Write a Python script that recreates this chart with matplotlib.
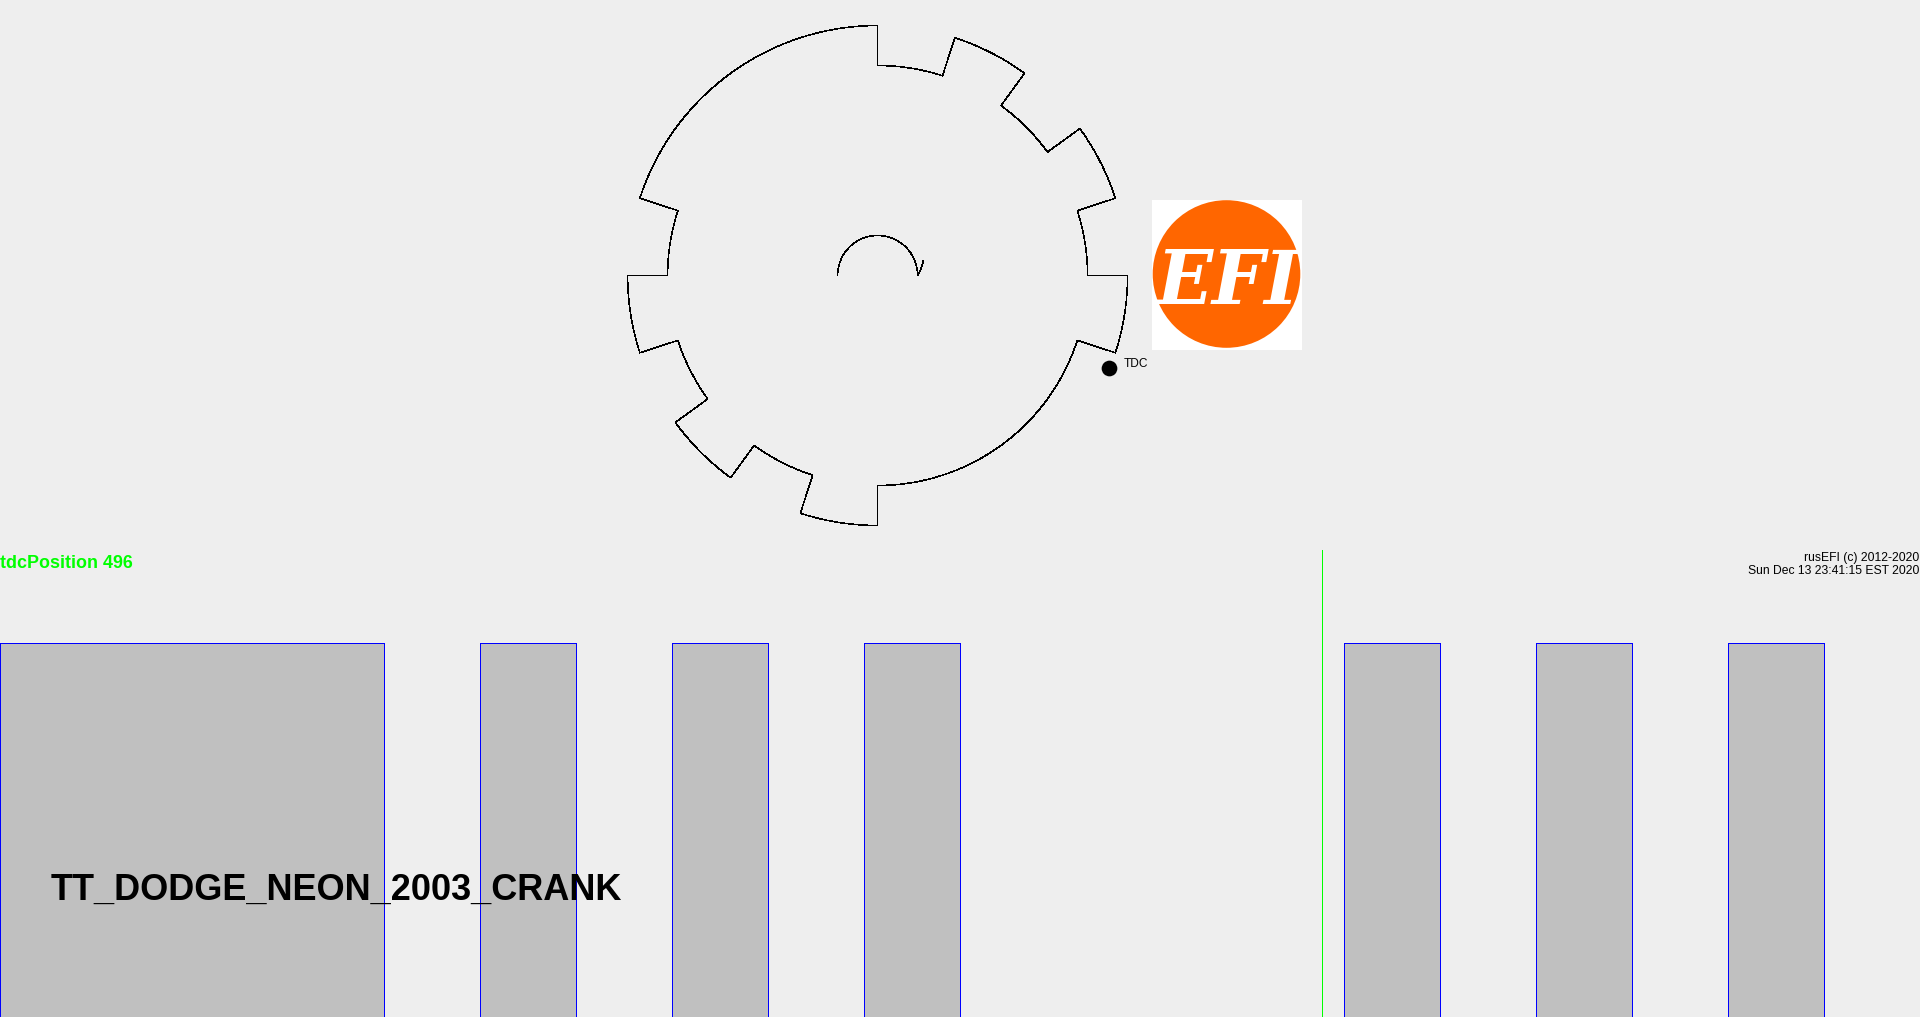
import numpy as np
import matplotlib
matplotlib.use("Agg")
import matplotlib.pyplot as plt
from matplotlib.patches import Circle

W, H = 1920, 1017
BG = "#EEEEEE"

# Trigger shape: tooth edges in degrees of the cycle
TOOTH_START = [0, 90, 126, 162, 252, 288, 324]
TOOTH_END = [72, 108, 144, 180, 270, 306, 342]
CYCLE = 360
R_HIGH = 250
R_LOW = 210
# Rotation arrow on the wheel
ARROW_THETA = [-18, 162, 144]
ARROW_R = [40, 40, 48]
# Top dead centre marker
TDC_ANGLE = 183.7
TDC_R = 249
# Sync line in the waveform
SYNC_ANGLE = 247.9
WAVE_TOP = 0.8
WAVE_BOTTOM = -0.2
# Labels
TDC_TEXT = "TDC"
POSITION_TEXT = "tdcPosition 496"
CREDIT_TEXT = "rusEFI (c) 2012-2020"
DATE_TEXT = "Sun Dec 13 23:41:15 EST 2020"
NAME_TEXT = "TT_DODGE_NEON_2003_CRANK"
LOGO_TEXT = "EFI"

fig = plt.figure(figsize=(W / 100, H / 100), dpi=100, facecolor=BG)


def box(x0, y0, x1, y1):
    return [x0 / W, 1 - y1 / H, (x1 - x0) / W, (y1 - y0) / H]


# Trigger wheel
wheel = fig.add_axes(box(607.6, 5.5, 1147.6, 545.5), projection="polar")
wheel.set_theta_direction(-1)
wheel.set_theta_offset(np.deg2rad(162))
wheel.set_rlim(0, 270)
wheel.set_axis_off()

th, rr = [], []
for i, (a, b) in enumerate(zip(TOOTH_START, TOOTH_END)):
    nxt = TOOTH_START[i + 1] if i + 1 < len(TOOTH_START) else CYCLE
    th += [a, b, b, nxt, nxt]
    rr += [R_HIGH, R_HIGH, R_LOW, R_LOW, R_HIGH]


def sampled(theta, radius, step=2.0):
    xs, ys = [], []
    for k in range(len(theta) - 1):
        n = max(1, int(abs(theta[k + 1] - theta[k]) / step))
        for j in range(n):
            xs.append(theta[k] + (theta[k + 1] - theta[k]) * j / n)
            ys.append(radius[k] + (radius[k + 1] - radius[k]) * j / n)
    xs.append(theta[-1])
    ys.append(radius[-1])
    return np.deg2rad(xs), ys


tx, ty = sampled(th, rr)
wheel.plot(tx, ty, color="black", lw=0.4, antialiased=False, solid_joinstyle="miter")
ax_, ay_ = sampled(ARROW_THETA, ARROW_R)
wheel.plot(ax_, ay_, color="black", lw=0.4, antialiased=False)
wheel.plot([np.deg2rad(TDC_ANGLE)], [TDC_R], "o", color="black", ms=11.3, mew=0)
wheel.annotate(TDC_TEXT, (np.deg2rad(TDC_ANGLE), TDC_R), xytext=(15, 3.5),
               textcoords="offset pixels", ha="left", va="center",
               family="Liberation Sans", fontsize=8.6, color="black")

# Waveform
wave = fig.add_axes(box(0, 550, W, H))
wave.set_xlim(0, CYCLE)
wave.set_ylim(0, 1)
wave.set_axis_off()
widths = [e - s for s, e in zip(TOOTH_START, TOOTH_END)]
wave.bar(TOOTH_START, [WAVE_TOP - WAVE_BOTTOM] * len(widths), widths, bottom=WAVE_BOTTOM,
         align="edge", color="#C0C0C0", edgecolor="#0000FF", linewidth=0.72,
         antialiased=False, clip_on=False)
wave.axvline(SYNC_ANGLE, color="#00FF00", lw=0.72, antialiased=False)

# Logo
logo = fig.add_axes(box(1152, 200, 1302, 350))
logo.set_xlim(0, 150)
logo.set_ylim(150, 0)
logo.set_xticks([])
logo.set_yticks([])
logo.set_facecolor("white")
for s in logo.spines.values():
    s.set_visible(False)
logo.add_patch(Circle((74.5, 74), 73.8, facecolor="#FF6600", edgecolor="none"))
logo.text(76.5, 104, LOGO_TEXT, color="white", family="DejaVu Serif", weight="bold",
          style="italic", fontsize=53, ha="center", va="baseline")

# Texts
fig.text(0 / W, 1 - 568 / H, POSITION_TEXT, color="#00FF00", family="Liberation Sans",
         weight="bold", fontsize=12.9, ha="left", va="baseline")
fig.text(1919.5 / W, 1 - 561 / H, CREDIT_TEXT, color="black", family="Liberation Sans",
         fontsize=8.7, ha="right", va="baseline")
fig.text(1919.5 / W, 1 - 574.5 / H, DATE_TEXT, color="black", family="Liberation Sans",
         fontsize=8.7, ha="right", va="baseline")
fig.text(50.3 / W, 1 - 900 / H, NAME_TEXT, color="black", family="Liberation Sans",
         weight="bold", fontsize=26, ha="left", va="baseline", zorder=10)

fig.savefig("out.png", dpi=100, facecolor=BG)
